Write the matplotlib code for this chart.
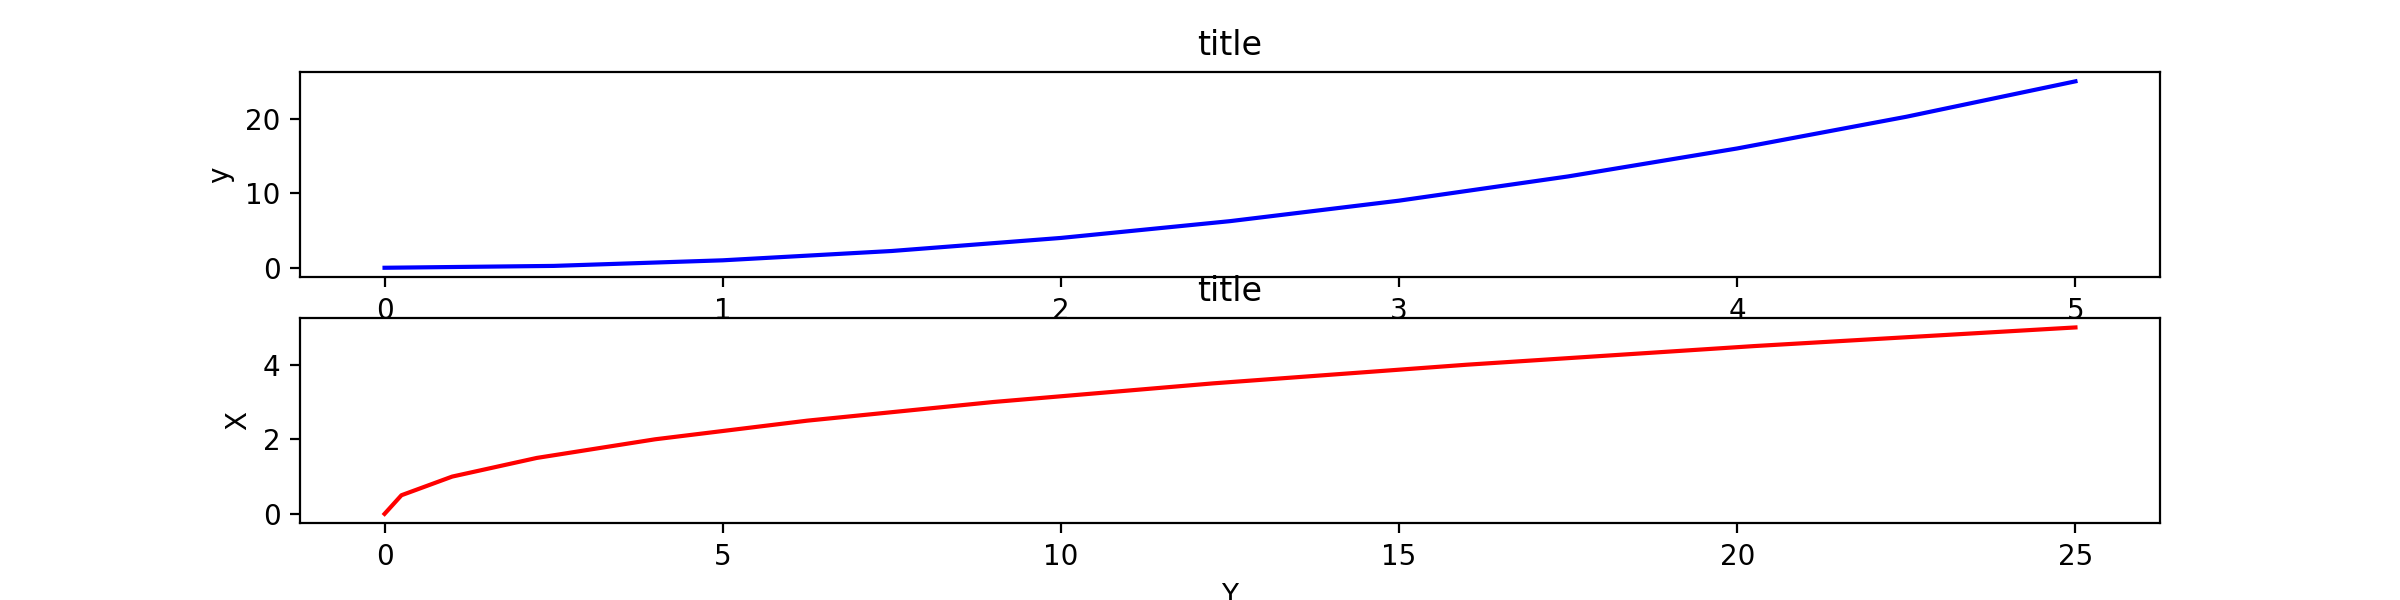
import matplotlib
matplotlib.use('Agg')
import matplotlib.pyplot as plt

# Data
x = [0, 0.5, 1, 1.5, 2, 2.5, 3, 3.5, 4, 4.5, 5]
y = [0, 0.25, 1, 2.25, 4, 6.25, 9, 12.25, 16, 20.25, 25]

fig = plt.figure(figsize=(12, 3), dpi=200)
fig.subplots_adjust(bottom=0.128, hspace=0.2)

# Top panel
ax1 = fig.add_subplot(2, 1, 1)
ax1.plot(x, y, 'b')
ax1.set_ylabel('y')
ax1.set_title('title')

# Bottom panel
ax2 = fig.add_subplot(2, 1, 2)
ax2.plot(y, x, 'r')
ax2.set_xlabel('Y')
ax2.set_ylabel('X')
ax2.set_title('title')

fig.savefig('out.png', dpi=200)
